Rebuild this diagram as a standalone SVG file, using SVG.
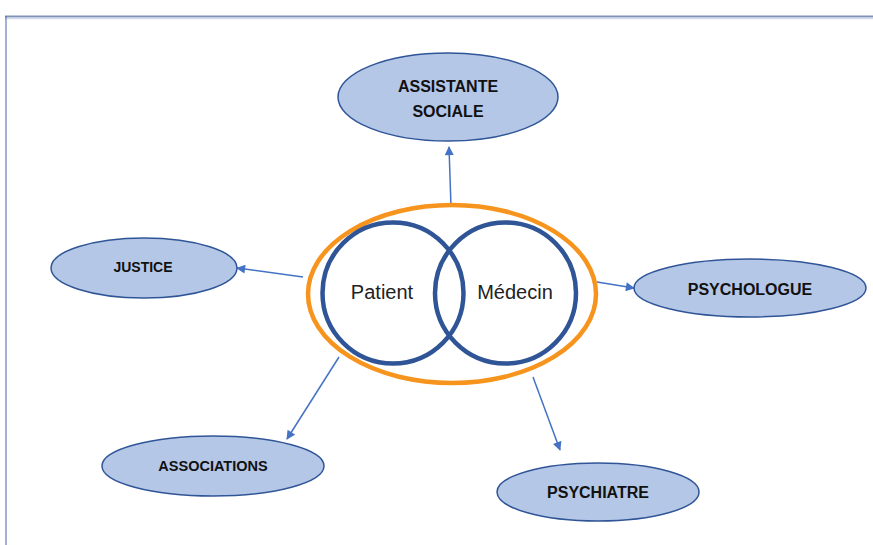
<svg xmlns="http://www.w3.org/2000/svg" width="873" height="545" viewBox="0 0 873 545">
<defs>
<style>
.node ellipse{fill:#B4C7E7;stroke:#2F5597;stroke-width:1.5}
.lbl{font-family:"Liberation Sans",Arial,sans-serif;font-weight:bold;font-size:16px;fill:#111;text-anchor:middle}
.ctr{font-family:"Liberation Sans",Arial,sans-serif;font-size:20px;fill:#222;text-anchor:middle}
.conn line{stroke:#4472C4;stroke-width:1.5;marker-end:url(#ah)}
</style>
<marker id="ah" viewBox="0 0 10 10" refX="9" refY="5" markerWidth="10" markerHeight="9" orient="auto" markerUnits="userSpaceOnUse">
<path d="M0,0 L10,5 L0,10 Z" fill="#4472C4"/>
</marker>
</defs>
<rect width="873" height="545" fill="#fff"/>
<line x1="5" y1="16.5" x2="873" y2="16.5" stroke="#7F93B8" stroke-width="2"/>
<line x1="5" y1="18.5" x2="873" y2="18.5" stroke="#D3DCEC" stroke-width="1.5"/>
<line x1="6" y1="16" x2="6" y2="545" stroke="#4A63A0" stroke-width="1"/>

<g class="conn">
<line x1="451" y1="207" x2="449" y2="147"/>
<line x1="303" y1="277" x2="237" y2="268"/>
<line x1="597" y1="282" x2="634" y2="288"/>
<line x1="339" y1="357" x2="287" y2="439"/>
<line x1="533" y1="377" x2="560" y2="450"/>
</g>

<g id="center">
<ellipse cx="452" cy="294" rx="144" ry="89" fill="none" stroke="#F7941D" stroke-width="4.5"/>
<circle cx="393" cy="293" r="70.5" fill="none" stroke="#2F5597" stroke-width="4.5"/>
<circle cx="505.5" cy="293" r="70.5" fill="none" stroke="#2F5597" stroke-width="4.5"/>
<text class="ctr" x="382" y="299">Patient</text>
<text class="ctr" x="515" y="299">Médecin</text>
</g>

<g id="assistante" class="node">
<ellipse cx="448" cy="97" rx="110" ry="44"/>
<text class="lbl" x="448" y="92">ASSISTANTE</text>
<text class="lbl" x="448" y="117">SOCIALE</text>
</g>
<g id="justice" class="node">
<ellipse cx="144" cy="268" rx="93" ry="30"/>
<text class="lbl" x="143" y="272" style="font-size:14px">JUSTICE</text>
</g>
<g id="psychologue" class="node">
<ellipse cx="750" cy="288" rx="116" ry="29"/>
<text class="lbl" x="750" y="295">PSYCHOLOGUE</text>
</g>
<g id="associations" class="node">
<ellipse cx="213" cy="466" rx="111" ry="30"/>
<text class="lbl" x="213" y="471" style="font-size:14.5px">ASSOCIATIONS</text>
</g>
<g id="psychiatre" class="node">
<ellipse cx="598" cy="492" rx="101" ry="29"/>
<text class="lbl" x="598" y="498">PSYCHIATRE</text>
</g>
</svg>
